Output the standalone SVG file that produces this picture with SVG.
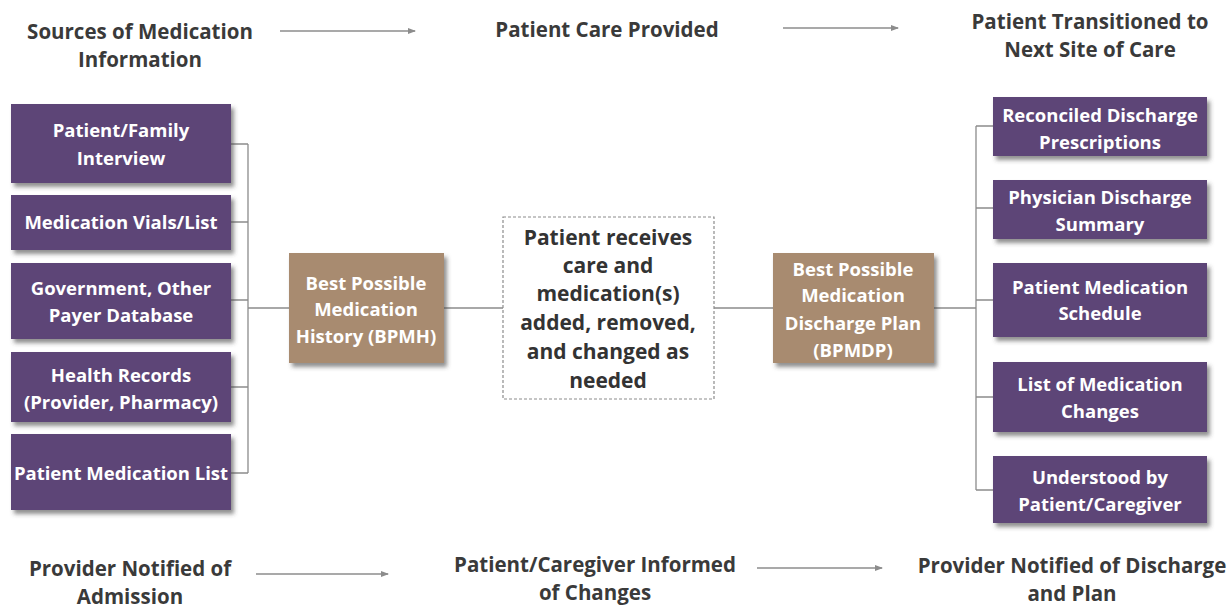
<svg xmlns="http://www.w3.org/2000/svg" width="1232" height="609" viewBox="0 0 1232 609">
<defs>
<filter id="sh" x="-10%" y="-10%" width="125%" height="130%">
<feDropShadow dx="3" dy="4" stdDeviation="2" flood-color="#444" flood-opacity="0.6"/>
</filter>
<marker id="ah" markerWidth="8" markerHeight="8" refX="7" refY="4" orient="auto" markerUnits="userSpaceOnUse">
<path d="M0,1 L8,4 L0,7 Z" fill="#8c8c8c"/>
</marker>
<style>
.hd{font-family:"Open Sans","Noto Sans",sans-serif;font-weight:bold;font-size:20.5px;fill:#3a3a3a;text-anchor:middle}
.bx{font-family:"Open Sans","Noto Sans",sans-serif;font-weight:bold;font-size:18.5px;fill:#fff;text-anchor:middle}
.mid{font-family:"Open Sans","Noto Sans",sans-serif;font-weight:bold;font-size:21px;fill:#333;text-anchor:middle}
.pu{fill:#5d4577;filter:url(#sh)}
.tn{fill:#a88b70;filter:url(#sh)}
.ln{stroke:#8c8c8c;stroke-width:1.3;fill:none}
.ar{stroke:#8c8c8c;stroke-width:1.3;fill:none;marker-end:url(#ah)}
</style>
</defs>
<rect width="1232" height="609" fill="#fff"/>

<g id="headers">
<text class="hd" x="140" y="39">Sources of Medication</text>
<text class="hd" x="140" y="67">Information</text>
<text class="hd" x="607" y="37">Patient Care Provided</text>
<text class="hd" x="1090" y="29">Patient Transitioned to</text>
<text class="hd" x="1090" y="57">Next Site of Care</text>
<text class="hd" x="130" y="576">Provider Notified of</text>
<text class="hd" x="130" y="604">Admission</text>
<text class="hd" x="595" y="572">Patient/Caregiver Informed</text>
<text class="hd" x="595" y="600">of Changes</text>
<text class="hd" x="1072" y="573">Provider Notified of Discharge</text>
<text class="hd" x="1072" y="601">and Plan</text>
</g>

<g id="connectors">
<line class="ar" x1="280" y1="31" x2="415" y2="31"/>
<line class="ar" x1="783" y1="28" x2="898" y2="28"/>
<line class="ar" x1="256" y1="574" x2="388" y2="574"/>
<line class="ar" x1="757" y1="568" x2="882" y2="568"/>
<path class="ln" d="M231,144 H248 M231,222 H248 M231,300 H248 M231,387 H248 M231,473 H248 M248,144 V473 M248,308 H289"/>
<path class="ln" d="M444,308 H503 M714,308 H773 M934,308 H976 M976,126 V490 M976,126 H993 M976,208 H993 M976,300 H993 M976,397 H993 M976,490 H993"/>
</g>

<g id="src1"><rect class="pu" x="11" y="104" width="220" height="79"/>
<text class="bx" x="121" y="137">Patient/Family</text><text class="bx" x="121" y="165">Interview</text></g>
<g id="src2"><rect class="pu" x="11" y="195" width="220" height="55"/>
<text class="bx" x="121" y="229">Medication Vials/List</text></g>
<g id="src3"><rect class="pu" x="11" y="263" width="220" height="76"/>
<text class="bx" x="121" y="295">Government, Other</text><text class="bx" x="121" y="322">Payer Database</text></g>
<g id="src4"><rect class="pu" x="11" y="352" width="220" height="70"/>
<text class="bx" x="121" y="382">Health Records</text><text class="bx" x="121" y="409">(Provider, Pharmacy)</text></g>
<g id="src5"><rect class="pu" x="11" y="434" width="220" height="76"/>
<text class="bx" x="121" y="480">Patient Medication List</text></g>

<g id="bpmh"><rect class="tn" x="289" y="253" width="155" height="110"/>
<text class="bx" x="366" y="290">Best Possible</text><text class="bx" x="366" y="316">Medication</text><text class="bx" x="366" y="343">History (BPMH)</text></g>

<g id="care"><rect x="503" y="217" width="211" height="182" fill="#fff" stroke="#8c8c8c" stroke-width="1.2" stroke-dasharray="3,2"/>
<text class="mid" x="608" y="245">Patient receives</text>
<text class="mid" x="608" y="273">care and</text>
<text class="mid" x="608" y="301">medication(s)</text>
<text class="mid" x="608" y="330">added, removed,</text>
<text class="mid" x="608" y="359">and changed as</text>
<text class="mid" x="608" y="388">needed</text></g>

<g id="bpmdp"><rect class="tn" x="773" y="253" width="161" height="110"/>
<text class="bx" x="853" y="276">Best Possible</text><text class="bx" x="853" y="302">Medication</text><text class="bx" x="853" y="330">Discharge Plan</text><text class="bx" x="853" y="357">(BPMDP)</text></g>

<g id="out1"><rect class="pu" x="993" y="97" width="214" height="59"/>
<text class="bx" x="1100" y="122">Reconciled Discharge</text><text class="bx" x="1100" y="149">Prescriptions</text></g>
<g id="out2"><rect class="pu" x="993" y="180" width="214" height="59"/>
<text class="bx" x="1100" y="204">Physician Discharge</text><text class="bx" x="1100" y="231">Summary</text></g>
<g id="out3"><rect class="pu" x="993" y="263" width="214" height="74"/>
<text class="bx" x="1100" y="294">Patient Medication</text><text class="bx" x="1100" y="320">Schedule</text></g>
<g id="out4"><rect class="pu" x="993" y="362" width="214" height="70"/>
<text class="bx" x="1100" y="391">List of Medication</text><text class="bx" x="1100" y="418">Changes</text></g>
<g id="out5"><rect class="pu" x="993" y="456" width="214" height="67"/>
<text class="bx" x="1100" y="484">Understood by</text><text class="bx" x="1100" y="511">Patient/Caregiver</text></g>
</svg>
